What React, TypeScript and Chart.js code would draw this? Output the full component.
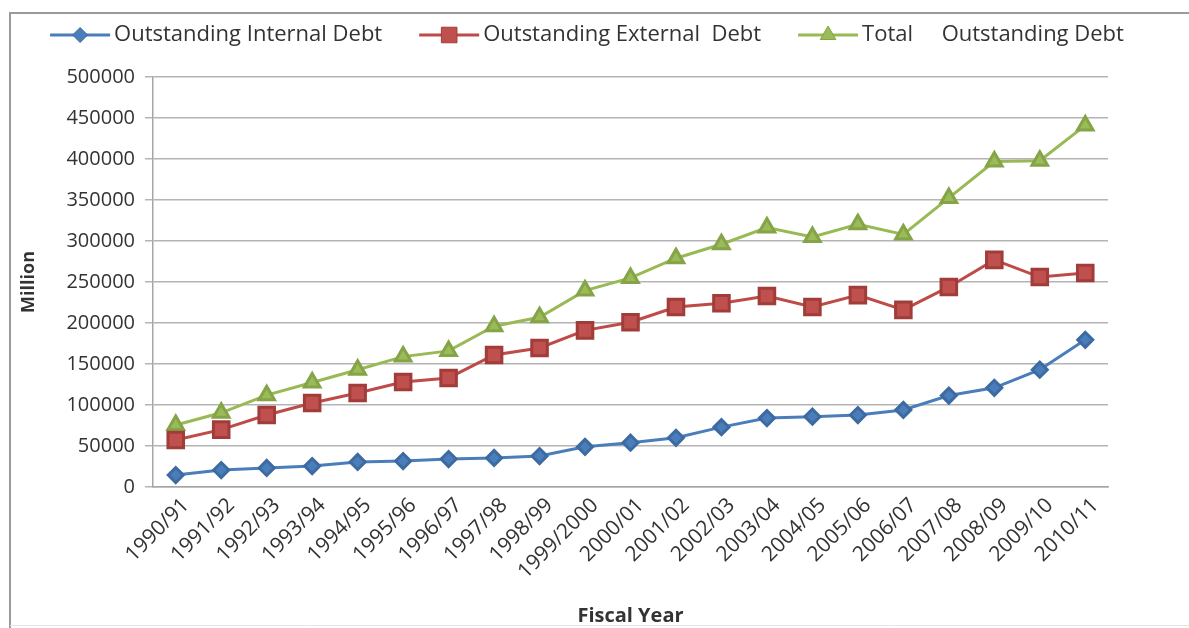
import React, { useEffect, useRef } from "react";
import { Chart, registerables } from "chart.js";

Chart.register(...registerables);

const categories = [
  "1990/91", "1991/92", "1992/93", "1993/94", "1994/95", "1995/96", "1996/97",
  "1997/98", "1998/99", "1999/2000", "2000/01", "2001/02", "2002/03", "2003/04",
  "2004/05", "2005/06", "2006/07", "2007/08", "2008/09", "2009/10", "2010/11",
];

const internalDebt = [
  14600, 20700, 23200, 25600, 30500, 31700, 34100, 35400, 37800, 49000, 54000,
  60000, 73000, 84000, 85800, 87800, 94000, 111500, 121000, 143000, 179500,
];

const externalDebt = [
  57300, 70000, 87800, 102400, 114600, 128000, 133000, 161000, 169500, 191000,
  201000, 219500, 224000, 233000, 219500, 234000, 216000, 244000, 277000, 256000, 261000,
];

const totalDebt = [
  75600, 90500, 112000, 127500, 143000, 159000, 166000, 196000, 207000, 239500,
  255000, 279000, 296000, 316500, 305000, 320500, 308000, 352500, 397000, 398000, 441000,
];

const seriesNames = [
  "Outstanding Internal Debt",
  "Outstanding External  Debt",
  "Total     Outstanding Debt",
];

const yTicks = [0, 50000, 100000, 150000, 200000, 250000, 300000, 350000, 400000, 450000, 500000];

const FONT = "'Open Sans', 'DejaVu Sans', sans-serif";
const TEXT = "#333333";

function drawMarker(ctx: CanvasRenderingContext2D, style: string, x: number, y: number, r: number, fill: string, stroke: string) {
  ctx.save();
  ctx.fillStyle = fill;
  ctx.strokeStyle = stroke;
  ctx.lineWidth = 1;
  ctx.beginPath();
  if (style === "rectRot") {
    ctx.moveTo(x, y - r);
    ctx.lineTo(x + r, y);
    ctx.lineTo(x, y + r);
    ctx.lineTo(x - r, y);
  } else if (style === "rect") {
    const h = r * Math.SQRT1_2;
    ctx.rect(x - h, y - h, 2 * h, 2 * h);
  } else {
    for (let i = 0; i < 3; i++) {
      const a = -Math.PI / 2 + (i * 2 * Math.PI) / 3;
      const px = x + Math.cos(a) * r;
      const py = y + Math.sin(a) * r;
      if (i === 0) ctx.moveTo(px, py);
      else ctx.lineTo(px, py);
    }
  }
  ctx.closePath();
  ctx.fill();
  ctx.stroke();
  ctx.restore();
}

const customLegend = {
  id: "customLegend",
  beforeDraw(chart: any) {
    const ctx = chart.ctx as CanvasRenderingContext2D;
    ctx.save();
    ctx.fillStyle = "#ffffff";
    ctx.fillRect(0, 0, chart.width, chart.height);
    ctx.strokeStyle = "#9a9a9a";
    ctx.lineWidth = 2;
    ctx.beginPath();
    ctx.moveTo(10, chart.height);
    ctx.lineTo(10, 13);
    ctx.lineTo(chart.width, 13);
    ctx.stroke();
    ctx.strokeStyle = "#e4e4e4";
    ctx.lineWidth = 1;
    ctx.beginPath();
    ctx.moveTo(10, chart.height - 2.5);
    ctx.lineTo(chart.width, chart.height - 2.5);
    ctx.stroke();
    ctx.restore();
  },
  afterDraw(chart: any) {
    const ctx = chart.ctx as CanvasRenderingContext2D;
    ctx.save();
    ctx.font = `22px ${FONT}`;
    const lineLen = 60;
    const textGap = 4;
    const itemGap = 37;
    const items = chart.data.datasets.map((ds: any) => ({
      ds,
      w: lineLen + textGap + ctx.measureText(ds.label).width,
    }));
    const total = items.reduce((s: number, it: any) => s + it.w, 0) + itemGap * (items.length - 1);
    let x = 587 - total / 2;
    const y = 35;
    ctx.textBaseline = "middle";
    ctx.textAlign = "left";
    items.forEach((it: any) => {
      const ds = it.ds;
      ctx.strokeStyle = ds.borderColor;
      ctx.lineWidth = 3;
      ctx.beginPath();
      ctx.moveTo(x, y);
      ctx.lineTo(x + lineLen, y);
      ctx.stroke();
      drawMarker(ctx, ds.pointStyle, x + lineLen / 2, y, ds.pointRadius, ds.pointBackgroundColor, ds.pointBorderColor);
      ctx.fillStyle = TEXT;
      ctx.fillText(ds.label, x + lineLen + textGap, y);
      x += it.w + itemGap;
    });
    ctx.restore();
  },
};

export default function App() {
  const canvasRef = useRef<HTMLCanvasElement>(null);

  useEffect(() => {
    if (!canvasRef.current) return;
    const chart = new Chart(canvasRef.current, {
      type: "line",
      data: {
        labels: categories,
        datasets: [
          {
            label: seriesNames[0],
            data: internalDebt,
            borderColor: "#4a7ebb",
            backgroundColor: "#4a7ebb",
            pointBackgroundColor: "#4a7ebb",
            pointBorderColor: "#3d6aa0",
            pointStyle: "rectRot",
            pointRadius: 7.5,
            borderWidth: 3,
            tension: 0,
          },
          {
            label: seriesNames[1],
            data: externalDebt,
            borderColor: "#be4b48",
            backgroundColor: "#be4b48",
            pointBackgroundColor: "#c0504d",
            pointBorderColor: "#a03c3a",
            pointStyle: "rect",
            pointRadius: 11,
            borderWidth: 3,
            tension: 0,
          },
          {
            label: seriesNames[2],
            data: totalDebt,
            borderColor: "#98b954",
            backgroundColor: "#98b954",
            pointBackgroundColor: "#9bbb59",
            pointBorderColor: "#84a447",
            pointStyle: "triangle",
            pointRadius: 9,
            borderWidth: 3,
            tension: 0,
          },
        ] as any,
      },
      options: {
        responsive: false,
        animation: false,
        layout: { padding: { left: 10, right: 81, top: 77, bottom: 0 } },
        plugins: {
          legend: { display: false },
          tooltip: { enabled: false },
        },
        scales: {
          x: {
            offset: true,
            grid: { display: false, drawTicks: false },
            border: { display: true, color: "#a6a6a6", width: 1.5 },
            ticks: {
              autoSkip: false,
              minRotation: 45,
              maxRotation: 45,
              padding: 6,
              labelOffset: 10,
              color: TEXT,
              font: { family: FONT, size: 21 },
            },
            title: {
              display: true,
              text: "Fiscal Year",
              color: TEXT,
              font: { family: FONT, size: 20, weight: "bold" },
              padding: { top: 0, bottom: 0 },
            },
            afterFit(scale: any) {
              scale.height = 141;
            },
          },
          y: {
            min: 0,
            max: 500000,
            afterBuildTicks(scale: any) {
              scale.ticks = yTicks.map((v) => ({ value: v }));
            },
            grid: { color: "#b4b4b4", lineWidth: 1.5, tickLength: 8 },
            border: { display: true, color: "#a6a6a6", width: 1.5 },
            ticks: {
              padding: 10,
              color: TEXT,
              font: { family: FONT, size: 20 },
              callback: (v: any) => String(v),
            },
            title: {
              display: true,
              text: "Million",
              color: TEXT,
              font: { family: FONT, size: 18, weight: "bold" },
              padding: { top: 8, bottom: 0 },
            },
            afterFit(scale: any) {
              scale.width = 143;
            },
          },
        },
      } as any,
      plugins: [customLegend],
    });
    return () => chart.destroy();
  }, []);

  return (
    <div style={{ position: "fixed", left: 0, top: 0, width: 1189, height: 628, background: "#fff" }}>
      <canvas ref={canvasRef} width={1189} height={628} style={{ width: 1189, height: 628 }} />
    </div>
  );
}
